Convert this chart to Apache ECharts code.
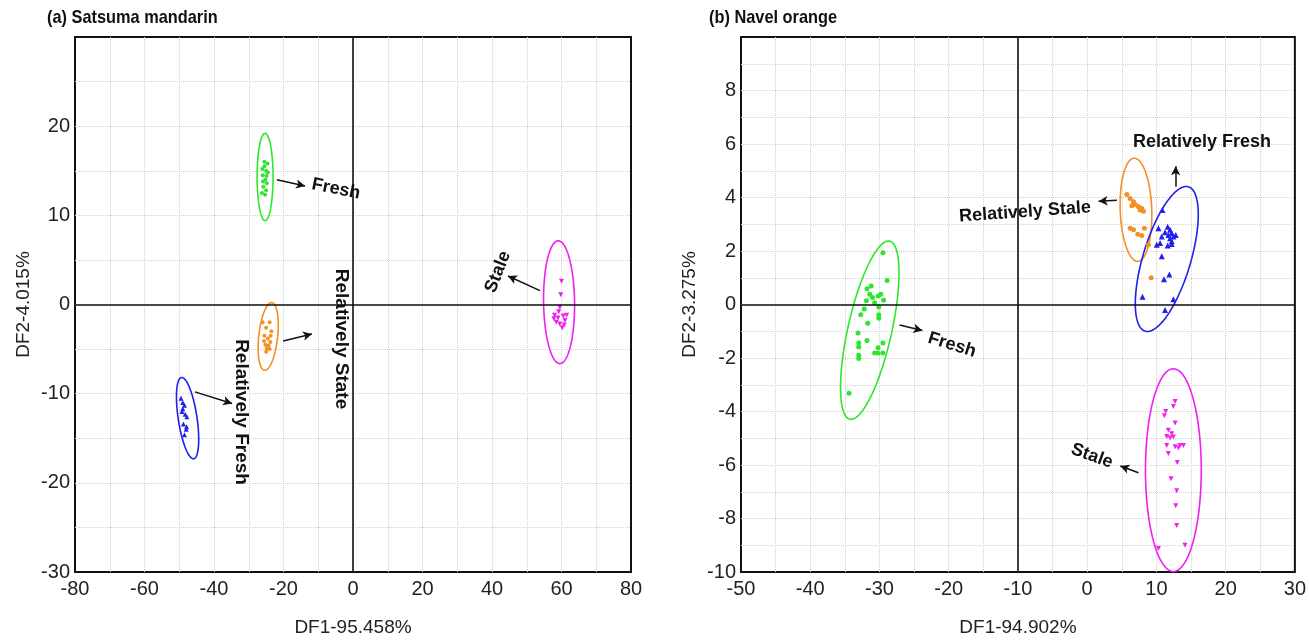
<!DOCTYPE html>
<html>
<head>
<meta charset="utf-8">
<script src="https://cdn.jsdelivr.net/npm/echarts@6/dist/echarts.min.js"></script>
<style>
  html, body { margin: 0; padding: 0; background: #fff; }
  #chart { width: 1309px; height: 642px; }
</style>
</head>
<body>
<div id="chart"></div>
<script>
// ---- (a) Satsuma mandarin : [DF1, DF2]
const leftFresh = [[-25.5, 15.5], [-25, 15], [-24.5, 14.8], [-26, 14.5], [-25.2, 14], [-24.8, 13.6], [-25.8, 13.2],
  [-25, 12.8], [-26.2, 12.5], [-25.5, 16], [-24.6, 15.8], [-25.9, 13.8], [-25.3, 12.3], [-24.9, 14.4], [-26.1, 15.2]];
const leftRelStale = [[-26, -2], [-24, -2], [-25, -2.6], [-23.5, -3], [-25.5, -3.5], [-24.5, -3.8], [-23.8, -4.2],
  [-25.2, -4.5], [-24.8, -4.9], [-24, -5], [-25.6, -4.1], [-23.7, -3.5], [-24.3, -4.6], [-25, -5.3]];
const leftRelFresh = [[-49.5, -10.5], [-49, -11], [-48.5, -11.3], [-49.2, -12], [-48.3, -12.3], [-47.8, -12.6],
  [-48.8, -13.4], [-48, -14], [-48.5, -14.6], [-47.9, -13.7], [-49, -11.7]];
const leftStale = [[60, 2.6], [59.8, 1.1], [59.5, -0.3], [58, -1.2], [59, -1.5], [60.5, -1.3], [61, -1.8],
  [58.5, -2], [59.5, -2.2], [60.2, -2.6], [57.8, -1.6], [61.5, -1.2], [59.2, -0.8], [60.8, -2.3]];

// ---- (b) Navel orange
const rightFresh = [[-29.5, 1.93], [-28.9, 0.9], [-31.8, 0.59], [-31.2, 0.69], [-31.4, 0.38], [-31.0, 0.26],
  [-30.2, 0.32], [-29.8, 0.38], [-29.4, 0.16], [-31.9, 0.14], [-30.7, 0.07], [-32.2, -0.17], [-30.1, -0.09],
  [-32.7, -0.38], [-30.1, -0.38], [-30.1, -0.51], [-31.7, -0.7], [-33.1, -1.07], [-31.8, -1.35], [-29.5, -1.44],
  [-33.0, -1.44], [-33.0, -1.59], [-30.2, -1.62], [-30.7, -1.81], [-30.2, -1.81], [-29.5, -1.81], [-33.0, -1.9],
  [-33.0, -2.02], [-34.4, -3.32]];
const rightRelStale = [[5.74, 4.11], [6.22, 3.96], [6.69, 3.84], [6.94, 3.74], [7.41, 3.65], [7.89, 3.59],
  [8.13, 3.49], [6.45, 3.69], [7.65, 3.53], [6.22, 2.85], [6.69, 2.79], [7.31, 2.63], [7.89, 2.58],
  [8.85, 2.23], [9.24, 1.0], [8.27, 2.85]];
const rightRelFresh = [[10.86, 3.53], [10.29, 2.85], [11.63, 2.91], [11.97, 2.79], [12.21, 2.67], [12.45, 2.54],
  [11.73, 2.6], [11.25, 2.7], [10.77, 2.54], [12.79, 2.6], [11.97, 2.48], [12.21, 2.36], [10.53, 2.3],
  [10.05, 2.23], [11.63, 2.21], [12.21, 2.26], [10.77, 1.8], [11.87, 1.12], [11.1, 0.94], [7.99, 0.29],
  [12.45, 0.2], [11.25, -0.21]];
const rightStale = [[12.7, -3.63], [12.45, -3.81], [11.34, -4.0], [11.15, -4.16], [12.7, -4.43], [11.73, -4.7],
  [12.21, -4.83], [11.49, -4.93], [11.97, -4.99], [12.45, -4.95], [11.49, -5.27], [12.7, -5.32], [13.42, -5.27],
  [13.9, -5.27], [13.17, -5.36], [11.73, -5.57], [13.02, -5.91], [12.11, -6.51], [12.93, -6.96], [12.79, -7.52],
  [12.93, -8.26], [10.29, -9.12], [14.13, -9.0]];

// confidence ellipses: [centerX, centerY, axisA_x, axisA_y, axisB_x, axisB_y]
const leftEllipses = [[-25.3, 14.3, 0, 4.9, 2.3, 0], [-24.4, -3.58, 0.97, 3.8, 2.73, 0],
  [-47.6, -12.74, -1.67, 4.56, 2.73, 0], [59.3, 0.26, -0.23, 6.89, 4.46, 0]];
const rightEllipses = [[-31.4, -0.96, 2.88, 3.33, 3.09, -0.18], [7.05, 3.54, -0.24, 1.93, 2.28, 0],
  [11.5, 1.7, 3.12, 2.7, 3.31, -0.25], [12.45, -6.19, 0, 3.79, 4.03, 0]];

// annotation arrows [from, to]
const leftArrows = [[[-21.9, 14.0], [-13.8, 13.3]], [[-20.1, -4.1], [-11.8, -3.3]],
  [[-45.5, -9.8], [-34.8, -11.1]], [[53.8, 1.56], [44.6, 3.2]]];
const rightArrows = [[[-27.1, -0.77], [-23.8, -0.97]], [[4.29, 3.9], [1.65, 3.86]],
  [[12.78, 4.4], [12.78, 5.17]], [[7.41, -6.29], [4.78, -6.04]]];

const leftXTicks = { min: -80, max: 80, interval: 20 };
const leftYTicks = { min: -30, max: 30, interval: 10 };
const rightXTicks = { min: -50, max: 30, interval: 10 };
const rightYTicks = { min: -10, max: 10, interval: 2 };

const clusterColors = ['#2fe62f', '#f39023', '#1f1fee', '#f020f0'];
const FONT = '"Liberation Sans", Arial, sans-serif';

const chart = echarts.init(document.getElementById('chart'));

const gridLine = { show: true, showMinLine: false, showMaxLine: false, lineStyle: { color: '#d2d2d2', type: 'dotted', width: 1 } };
const minorLine = { show: true, lineStyle: { color: '#d2d2d2', type: 'dotted', width: 1 } };

function xAxisOf(idx, ticks, name) {
  return {
    type: 'value', gridIndex: idx, min: ticks.min, max: ticks.max, interval: ticks.interval,
    axisLine: { show: false }, axisTick: { show: false },
    axisLabel: { color: '#222', fontSize: 20, fontFamily: FONT, margin: 7 },
    splitLine: gridLine,
    minorTick: { show: false, splitNumber: 2 },
    minorSplitLine: minorLine,
    name: name, nameLocation: 'middle', nameGap: 46,
    nameTextStyle: { color: '#222', fontSize: 19, fontFamily: FONT }
  };
}

function yAxisOf(idx, ticks, name) {
  return {
    type: 'value', gridIndex: idx, min: ticks.min, max: ticks.max, interval: ticks.interval,
    axisLine: { show: false }, axisTick: { show: false },
    axisLabel: { color: '#222', fontSize: 20, fontFamily: FONT, margin: 5, showMaxLabel: false },
    splitLine: gridLine,
    minorTick: { show: false, splitNumber: 2 },
    minorSplitLine: minorLine,
    name: name, nameLocation: 'middle', nameGap: 42,
    nameTextStyle: { color: '#222', fontSize: 19, fontFamily: FONT }
  };
}

function ellipseSeries(idx, list) {
  return {
    type: 'custom', xAxisIndex: idx, yAxisIndex: idx, silent: true,
    encode: { x: 0, y: 1 },
    data: list,
    renderItem: function (params, api) {
      const cx = api.value(0), cy = api.value(1);
      const ax = api.value(2), ay = api.value(3), bx = api.value(4), by = api.value(5);
      const pts = [];
      for (let k = 0; k <= 90; k++) {
        const t = Math.PI * 2 * k / 90;
        pts.push(api.coord([cx + ax * Math.cos(t) + bx * Math.sin(t), cy + ay * Math.cos(t) + by * Math.sin(t)]));
      }
      return {
        type: 'polyline', shape: { points: pts },
        style: { stroke: clusterColors[params.dataIndex], fill: null, lineWidth: 1.6 }
      };
    }
  };
}

function crossSeries(idx, xZero) {
  return {
    type: 'scatter', xAxisIndex: idx, yAxisIndex: idx, data: [], silent: true,
    markLine: {
      silent: true, symbol: ['none', 'none'], animation: false,
      label: { show: false },
      lineStyle: { color: '#111', width: 1.6, type: 'solid' },
      data: [{ xAxis: xZero }, { yAxis: 0 }]
    }
  };
}

function clusterSeries(idx, data, ci, symbol, size, arrow) {
  return {
    type: 'scatter', xAxisIndex: idx, yAxisIndex: idx, data: data,
    symbol: symbol, symbolSize: size, symbolRotate: ci === 3 ? 180 : 0,
    itemStyle: { color: clusterColors[ci], opacity: 1 },
    markLine: {
      silent: true, symbol: ['none', 'arrow'], symbolSize: [7, 9], animation: false,
      label: { show: false },
      lineStyle: { color: '#111', width: 1.5, type: 'solid' },
      data: [[{ coord: arrow[0] }, { coord: arrow[1] }]]
    }
  };
}

function label(text, x, y, rot, size) {
  return {
    type: 'text', x: x, y: y, rotation: rot, z: 100,
    style: { text: text, font: 'bold ' + (size || 18) + 'px ' + FONT, fill: '#111', align: 'center', verticalAlign: 'middle' }
  };
}

const option = {
  animation: false,
  grid: [
    { left: 75, top: 37, width: 556, height: 540, show: true, borderColor: '#111', borderWidth: 2 },
    { left: 741, top: 37, width: 556, height: 540, show: true, borderColor: '#111', borderWidth: 2 }
  ],
  xAxis: [xAxisOf(0, leftXTicks, 'DF1-95.458%'), xAxisOf(1, rightXTicks, 'DF1-94.902%')],
  yAxis: [yAxisOf(0, leftYTicks, 'DF2-4.015%'), yAxisOf(1, rightYTicks, 'DF2-3.275%')],
  graphic: [
    { type: 'text', x: 47, y: 8, scaleX: 0.86, style: { text: '(a) Satsuma mandarin', font: 'bold 19px ' + FONT, fill: '#111' } },
    { type: 'text', x: 709, y: 8, scaleX: 0.86, style: { text: '(b) Navel orange', font: 'bold 19px ' + FONT, fill: '#111' } },
    label('Fresh', 336, 189, -0.2),
    label('Relatively State', 341, 339, -Math.PI / 2, 19),
    label('Relatively Fresh', 241, 412, -Math.PI / 2, 19),
    label('Stale', 498, 272, 1.2),
    label('Fresh', 952, 345, -0.3),
    label('Relatively Stale', 1025, 212, 0.07),
    label('Relatively Fresh', 1202, 142, 0),
    label('Stale', 1092, 456, -0.35)
  ],
  series: [
    crossSeries(0, 0),
    crossSeries(1, -10),
    ellipseSeries(0, leftEllipses),
    ellipseSeries(1, rightEllipses),
    clusterSeries(0, leftFresh, 0, 'circle', 4, leftArrows[0]),
    clusterSeries(0, leftRelStale, 1, 'circle', 4, leftArrows[1]),
    clusterSeries(0, leftRelFresh, 2, 'triangle', 5, leftArrows[2]),
    clusterSeries(0, leftStale, 3, 'triangle', 5, leftArrows[3]),
    clusterSeries(1, rightFresh, 0, 'circle', 5, rightArrows[0]),
    clusterSeries(1, rightRelStale, 1, 'circle', 5, rightArrows[1]),
    clusterSeries(1, rightRelFresh, 2, 'triangle', 6, rightArrows[2]),
    clusterSeries(1, rightStale, 3, 'triangle', 5, rightArrows[3])
  ]
};

chart.setOption(option);
window.addEventListener('resize', function () { chart.resize(); });
</script>
</body>
</html>
